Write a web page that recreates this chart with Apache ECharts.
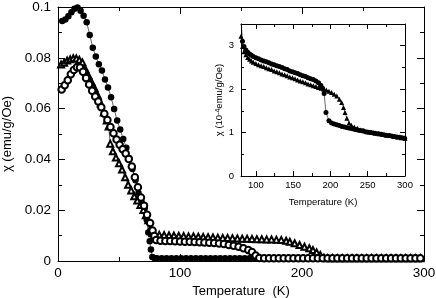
<!DOCTYPE html>
<html><head><meta charset="utf-8">
<script src="https://cdn.jsdelivr.net/npm/echarts@6/dist/echarts.min.js"></script>
<style>html,body{margin:0;padding:0;background:#fff}#c{width:436px;height:298px}</style>
</head><body><div id="c"></div>
<script>
// ---- main plot: filled circles ----
const mainFilledT = [3.5,6,8.5,11,13.5,16,18.5,21,23.5,26,28.5,31,33.5,36,38.5,41,43.5,46,48.5,51,53.5,56,58.5,61,63.5,66,68.5,71,72.7,74,75.2,76.2,77.3,79,
  81,85,89,93,97,101,105,109,113,117,121,125,129,133,137,141,145,149,153,157,161,165,169,173,177,181,185,189,193,197,201,205,209,213,217,221,225,229,233,237,241,245,249,253,257,261,265,269,273,277,281,285,289,293,297];
const mainFilled = [0.0945,0.0951,0.0964,0.0979,0.0993,0.0998,0.0985,0.0966,0.0940,0.0890,0.0840,0.0805,0.0775,0.0750,0.0715,0.0683,0.0645,0.0598,0.0553,0.0518,0.0480,0.0446,0.0405,0.0362,0.0318,0.0268,0.0233,0.0207,0.0162,0.0112,0.0078,0.0045,0.0016,0.0012,
  0.0011,0.0011,0.0011,0.0011,0.0011,0.0011,0.0011,0.0011,0.0011,0.0011,0.0011,0.0011,0.0011,0.0011,0.0011,0.0011,0.0011,0.0011,0.0011,0.0011,0.0011,0.0011,0.0011,0.0011,0.0011,0.0011,0.0011,0.0011,0.0011,0.0011,0.0011,0.0011,0.0011,0.0011,0.0011,0.0011,0.0011,0.0011,0.0011,0.0011,0.0011,0.0011,0.0011,0.0011,0.0011,0.0011,0.0011,0.0011,0.0011,0.0011,0.0011,0.0011,0.0011,0.0011,0.0011,0.0011,0.0011,0.0011,0.0011,0.0011,0.0011];
// ---- main plot: open circles ----
const mainOpenT = [3,5.5,8,10.5,13,15.5,18,20.5,23,25.5,28,30.5,33,35.5,38,40.5,43,45.5,48,50.5,53,55.5,58,60.5,63,65.5,68,70.5,73,75.5,77.5,79,80.5,
  84,88,92,96,100,104,108,112,116,120,124,128,132,136,140,144,148,152,156,159,162,165,
  169,173,177,181,185,189,193,197,201,205,209,213,217,221,225,229,233,237,241,245,249,253,257,261,265,269,273,277,281,285,289,293,297];
const mainOpen = [0.0675,0.0692,0.0712,0.0735,0.0752,0.0763,0.0762,0.0745,0.0720,0.0695,0.0670,0.0648,0.0628,0.0605,0.0580,0.0555,0.0528,0.0503,0.0478,0.0458,0.0440,0.0423,0.0402,0.0372,0.0330,0.0290,0.0250,0.0218,0.0182,0.0150,0.0120,0.0098,0.0083,
  0.0080,0.0079,0.0079,0.0078,0.0077,0.0076,0.0076,0.0075,0.0074,0.0073,0.0072,0.0071,0.0069,0.0067,0.0063,0.0060,0.0056,0.0050,0.0043,0.0035,0.0022,0.0012,
  0.0011,0.0011,0.0011,0.0011,0.0011,0.0011,0.0011,0.0011,0.0011,0.0011,0.0011,0.0011,0.0011,0.0011,0.0011,0.0011,0.0011,0.0011,0.0011,0.0011,0.0011,0.0011,0.0011,0.0011,0.0011,0.0011,0.0011,0.0011,0.0011,0.0011,0.0011,0.0011,0.0011];
// ---- main plot: open triangles ----
const mainTriT = [2.5,5,7.5,10,12.5,15,17.5,20,22.5,25,27.5,30,32.5,35,37.5,40,41.5,42.8,45,47.5,50,52.5,55,57.5,60,62.5,65,67.5,70,72,74,76,77.5,79,
  83,87,91,95,99,103,107,111,115,119,123,127,131,135,139,143,147,151,155,159,163,167,171,175,179,183,187,190,194,198,202,206,209,212,215,218,221,
  225,229,233,237,241,245,249,253,257,261,265,269,273,277,281,285,289,293,297];
const mainTri = [0.0774,0.0781,0.0789,0.0794,0.0798,0.0797,0.0792,0.0782,0.0755,0.0730,0.0705,0.0680,0.0653,0.0620,0.0585,0.0553,0.0530,0.0462,0.0432,0.0407,0.0385,0.0360,0.0330,0.0300,0.0278,0.0255,0.0238,0.0220,0.0201,0.0180,0.0160,0.0130,0.0110,0.0104,
  0.0103,0.0102,0.0101,0.0100,0.0099,0.0098,0.0097,0.0097,0.0096,0.0095,0.0094,0.0093,0.0092,0.0091,0.0091,0.0090,0.0089,0.0088,0.0088,0.0087,0.0086,0.0086,0.0085,0.0085,0.0084,0.0083,0.0080,0.0076,0.0070,0.0063,0.0056,0.0050,0.0043,0.0034,0.0024,0.0013,0.0011,
  0.0011,0.0011,0.0011,0.0011,0.0011,0.0011,0.0011,0.0011,0.0011,0.0011,0.0011,0.0011,0.0011,0.0011,0.0011,0.0011,0.0011,0.0011,0.0011];
// ---- inset: filled circles ----
const insetCircT = [80,82,84,86.5,89,91.5,94,96.5,100,103.5,107,110.5,114,117.5,121,124.5,128,131.5,135,138.5,142,145.5,149,152.5,156,159.5,163,166.5,170,173.5,177,180.5,184,187,189.5,191.5,194,198,201.5,205,208.5,212,215.5,219,222.5,226,229.5,233,236.5,240,243.5,247,250.5,254,257.5,261,264.5,268,271.5,275,278.5,282,285.5,289,292.5,296,299.5];
const insetCirc = [3.6,3.10,2.98,2.90,2.85,2.81,2.78,2.75,2.72,2.70,2.67,2.65,2.63,2.61,2.58,2.56,2.54,2.52,2.50,2.47,2.45,2.42,2.40,2.38,2.36,2.33,2.31,2.29,2.26,2.24,2.22,2.19,2.15,2.09,2.02,1.90,1.46,1.27,1.22,1.20,1.18,1.16,1.14,1.13,1.11,1.10,1.09,1.07,1.06,1.05,1.04,1.02,1.01,1.00,0.99,0.98,0.97,0.96,0.95,0.94,0.93,0.92,0.91,0.90,0.89,0.88,0.87];
// ---- inset: filled triangles ----
const insetTriT = [80,82,84,86.5,89,91.5,94,96.5,100,103.5,107,110.5,114,117.5,121,124.5,128,131.5,135,138.5,142,145.5,149,152.5,156,159.5,163,166.5,170,173.5,177,180.5,184,187.5,191,194.5,198,201.5,205,208.5,212,215,217.5,219.5,222,225,228,232,236,240,245,250,255,260,265,270,275,280,285,290,295,300];
const insetTri = [3.22,2.98,2.86,2.79,2.73,2.69,2.65,2.62,2.59,2.56,2.54,2.52,2.49,2.47,2.45,2.42,2.40,2.38,2.35,2.33,2.31,2.28,2.26,2.24,2.21,2.19,2.17,2.15,2.12,2.10,2.08,2.06,2.04,2.02,2.00,1.98,1.95,1.92,1.88,1.84,1.77,1.69,1.58,1.46,1.33,1.22,1.17,1.13,1.10,1.06,1.04,1.02,1.00,0.99,0.97,0.96,0.94,0.93,0.91,0.90,0.88,0.87];

const mainXTicks = [0, 100, 200, 300];
const insetXMajor = [100, 150, 200, 250, 300];
const insetXMinor = [125, 175, 225, 275];
const insetYMajor = [0, 1, 2, 3];
const insetYMinor = [0.5, 1.5, 2.5];

const zip = (t, v) => t.map((x, i) => [x, v[i]]);
const FF = 'Liberation Sans, Arial, sans-serif';
const K = '#000';

function mainX(pos, showLabel) {
  return {
    type: 'value', gridIndex: 0, position: pos, min: 0, max: 300, interval: 100,
    axisLine: {show: true, onZero: false, lineStyle: {color: K, width: 1}},
    axisTick: {show: true, inside: true, length: 7, lineStyle: {color: K, width: 1}},
    minorTick: {show: true, splitNumber: 2, length: 4, lineStyle: {color: K, width: 1}},
    splitLine: {show: false}, minorSplitLine: {show: false},
    axisLabel: {show: showLabel, color: K, fontSize: 13.5, fontFamily: FF, margin: 5},
    name: showLabel ? 'Temperature  (K)' : '', nameLocation: 'middle', nameGap: 19,
    nameTextStyle: {color: K, fontSize: 13, fontFamily: FF}
  };
}
function mainY(pos, showLabel) {
  return {
    type: 'value', gridIndex: 0, position: pos, min: 0, max: 0.1, interval: 0.02,
    axisLine: {show: true, onZero: false, lineStyle: {color: K, width: 1}},
    axisTick: {show: true, inside: true, length: 7, lineStyle: {color: K, width: 1}},
    minorTick: {show: true, splitNumber: 2, length: 4, lineStyle: {color: K, width: 1}},
    splitLine: {show: false}, minorSplitLine: {show: false},
    axisLabel: {show: showLabel, color: K, fontSize: 13.5, fontFamily: FF, margin: 7},
    name: showLabel ? 'χ (emu/g/Oe)' : '', nameLocation: 'middle', nameGap: 42,
    nameTextStyle: {color: K, fontSize: 13, fontFamily: FF}
  };
}
function insetX(pos, ticks, len, showLine, labels, name) {
  return {
    type: 'value', gridIndex: 1, position: pos, min: 80, max: 300,
    axisLine: {show: showLine, onZero: false, lineStyle: {color: K, width: 1}},
    axisTick: {show: true, inside: true, length: len, customValues: ticks, lineStyle: {color: K, width: 1}},
    splitLine: {show: false},
    axisLabel: labels ? {show: true, customValues: labels, color: K, fontSize: 9.5, fontFamily: FF, margin: 4} : {show: false},
    name: name || '', nameLocation: 'middle', nameGap: 21,
    nameTextStyle: {color: K, fontSize: 9.5, fontFamily: FF}
  };
}
function insetY(pos, ticks, len, showLine, labels, name) {
  return {
    type: 'value', gridIndex: 1, position: pos, min: 0, max: 3.5,
    axisLine: {show: showLine, onZero: false, lineStyle: {color: K, width: 1}},
    axisTick: {show: true, inside: true, length: len, customValues: ticks, lineStyle: {color: K, width: 1}},
    splitLine: {show: false},
    axisLabel: labels ? {show: true, customValues: labels, color: K, fontSize: 9.5, fontFamily: FF, margin: 7} : {show: false},
    name: name || '', nameLocation: 'middle', nameGap: 12,
    nameTextStyle: {color: K, fontSize: 9.5, fontFamily: FF, rich: {s: {fontSize: 7, fontFamily: FF, color: K, verticalAlign: 'top', padding: [0, 0, 4, 0]}}}
  };
}

const chart = echarts.init(document.getElementById('c'), null, {renderer: 'canvas'});
chart.setOption({
  animation: false,
  backgroundColor: '#fff',
  grid: [
    {left: 58, right: 12, top: 7, bottom: 37, containLabel: false, outerBoundsMode: 'none'},
    {left: 241, right: 31, top: 24, bottom: 122, containLabel: false, outerBoundsMode: 'none', show: true, backgroundColor: '#fff', borderWidth: 0}
  ],
  xAxis: [
    mainX('bottom', true), mainX('top', false),
    insetX('bottom', insetXMajor, 5, true, insetXMajor, 'Temperature (K)'),
    insetX('bottom', insetXMinor, 3, false, null, ''),
    insetX('top', insetXMajor, 5, true, null, ''),
    insetX('top', insetXMinor, 3, false, null, '')
  ],
  yAxis: [
    mainY('left', true), mainY('right', false),
    insetY('left', insetYMajor, 5, true, insetYMajor, 'χ (10{s|-4}emu/g/Oe)'),
    insetY('left', insetYMinor, 3, false, null, ''),
    insetY('right', insetYMajor, 5, true, null, ''),
    insetY('right', insetYMinor, 3, false, null, '')
  ],
  series: [
    {type: 'line', xAxisIndex: 0, yAxisIndex: 0, data: zip(mainFilledT, mainFilled), symbol: 'circle', symbolSize: 6.5,
     itemStyle: {color: K}, lineStyle: {color: K, width: 0.6}},
    {type: 'line', xAxisIndex: 0, yAxisIndex: 0, data: zip(mainTriT, mainTri), symbol: 'emptyTriangle', symbolSize: 6,
     itemStyle: {color: K, borderWidth: 0.6}, lineStyle: {color: K, width: 0.6}},
    {type: 'line', xAxisIndex: 0, yAxisIndex: 0, data: zip(mainOpenT, mainOpen), symbol: 'emptyCircle', symbolSize: 6.5,
     itemStyle: {color: K, borderWidth: 0.6}, lineStyle: {color: K, width: 0.6}},
    {type: 'line', xAxisIndex: 2, yAxisIndex: 2, data: zip(insetCircT, insetCirc), symbol: 'circle', symbolSize: 5,
     itemStyle: {color: K}, lineStyle: {color: K, width: 0.6}},
    {type: 'line', xAxisIndex: 2, yAxisIndex: 2, data: zip(insetTriT, insetTri), symbol: 'triangle', symbolSize: 5,
     itemStyle: {color: K}, lineStyle: {color: K, width: 0.6}}
  ]
});
</script></body></html>
